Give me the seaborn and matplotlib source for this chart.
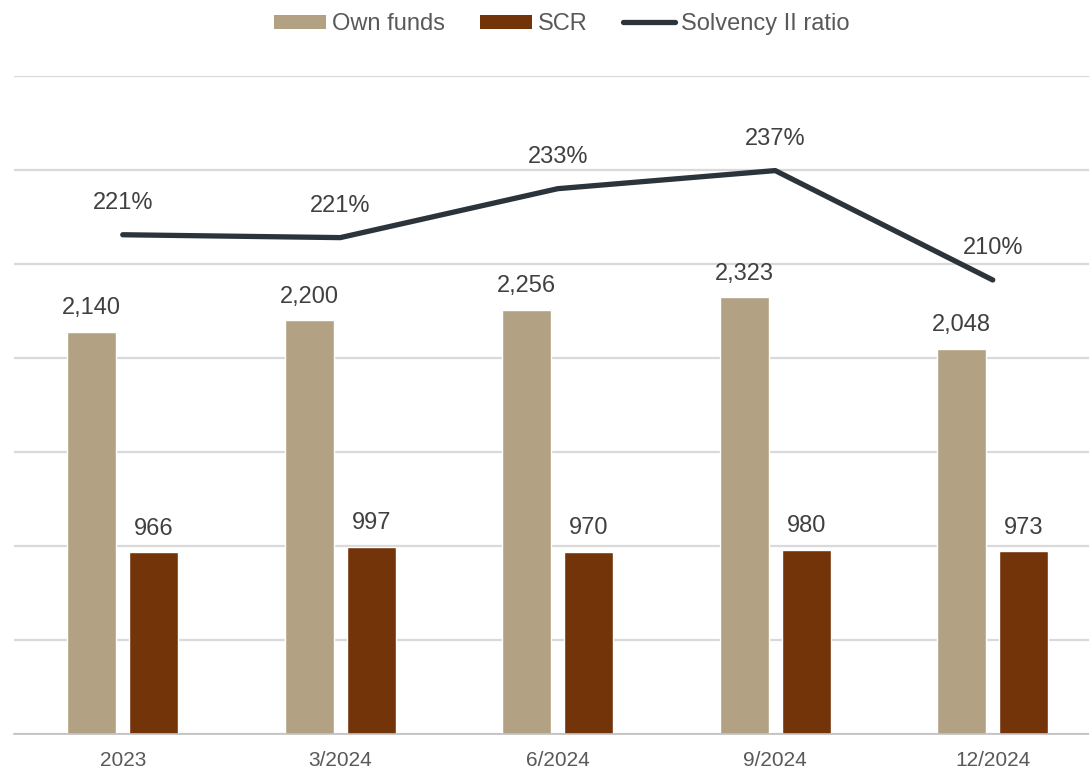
import numpy as np
import pandas as pd
import matplotlib
matplotlib.use("Agg")
import matplotlib.pyplot as plt
from matplotlib.patches import Patch
from matplotlib.lines import Line2D
import seaborn as sns

categories = ["2023", "3/2024", "6/2024", "9/2024", "12/2024"]
own_funds = [2140, 2200, 2256, 2323, 2048]
scr = [966, 997, 970, 980, 973]
solvency_ratio = [221.4, 220.7, 232.6, 237.0, 210.4]

series_names = ["Own funds", "SCR"]
line_name = "Solvency II ratio"

c_own = "#B2A283"
c_scr = "#74340A"
c_line = "#2B333B"
c_text = "#404040"
c_grid = "#D9D9D9"

sns.set_theme(style="white")
plt.rcParams["font.family"] = ["Liberation Sans", "DejaVu Sans"]

df = pd.DataFrame({
    "period": categories * 2,
    "series": [series_names[0]] * len(categories) + [series_names[1]] * len(categories),
    "value": own_funds + scr,
})

fig = plt.figure(figsize=(10.89, 7.69), dpi=100)
ax = fig.add_axes([14 / 1089, 35 / 769, 1087.5 / 1089, 658 / 769])

sns.barplot(data=df, x="period", y="value", hue="series", order=categories,
            hue_order=series_names, palette=[c_own, c_scr], width=0.57, gap=0.21,
            saturation=1, legend=False, ax=ax)

ax.set_ylim(0, 3500)
ax.set_yticks(np.arange(0, 3501, 500))
ax.set_yticklabels([])
ax.tick_params(axis="y", length=0)
ax.yaxis.grid(True, color=c_grid, lw=1.6)
ax.set_axisbelow(True)
ax.set_xlim(-0.5, len(categories) - 0.5)
ax.set_xlabel("")
ax.set_ylabel("")
for s in ["top", "right", "left"]:
    ax.spines[s].set_visible(False)
ax.spines["bottom"].set_color("#BFBFBF")
ax.spines["bottom"].set_linewidth(1.2)

ax.set_xticks(np.arange(len(categories)))
ax.set_xticklabels(categories, fontsize=15, color="#595959")
ax.set_xticks(np.arange(len(categories) + 1) - 0.5, minor=True)
ax.tick_params(axis="x", which="major", length=0, pad=12)
ax.tick_params(axis="x", which="minor", length=7, width=1.2, color="#BFBFBF", direction="out")

for container, vals in zip(ax.containers, [own_funds, scr]):
    ax.bar_label(container, labels=[f"{v:,}" for v in vals], padding=9,
                 fontsize=17, color=c_text)

ax2 = ax.twinx()
xpos = np.arange(len(categories))
sns.lineplot(x=xpos, y=solvency_ratio, color=c_line, lw=3.8, ax=ax2,
             solid_capstyle="round", solid_joinstyle="round")
ax2.set_ylim(100, 260)
ax2.set_yticks([])
ax2.set_ylabel("")
for s in ax2.spines.values():
    s.set_visible(False)
for x, v in zip(xpos, solvency_ratio):
    ax2.annotate(f"{v:.0f}%", (x, v), xytext=(0, 15), textcoords="offset points",
                 ha="center", va="bottom", fontsize=17, color=c_text)

handles = [Patch(facecolor=c_own, edgecolor="none"),
           Patch(facecolor=c_scr, edgecolor="none"),
           Line2D([0], [0], color=c_line, lw=3.8, solid_capstyle="round")]
fig.legend(handles, series_names + [line_name], loc="center",
           bbox_to_anchor=(562 / 1089, 1 - 24 / 769),
           ncol=3, frameon=False, fontsize=17, labelcolor="#595959",
           handlelength=2.2, handleheight=0.55, handletextpad=0.25, columnspacing=1.5)

fig.savefig("out.png", dpi=100)
